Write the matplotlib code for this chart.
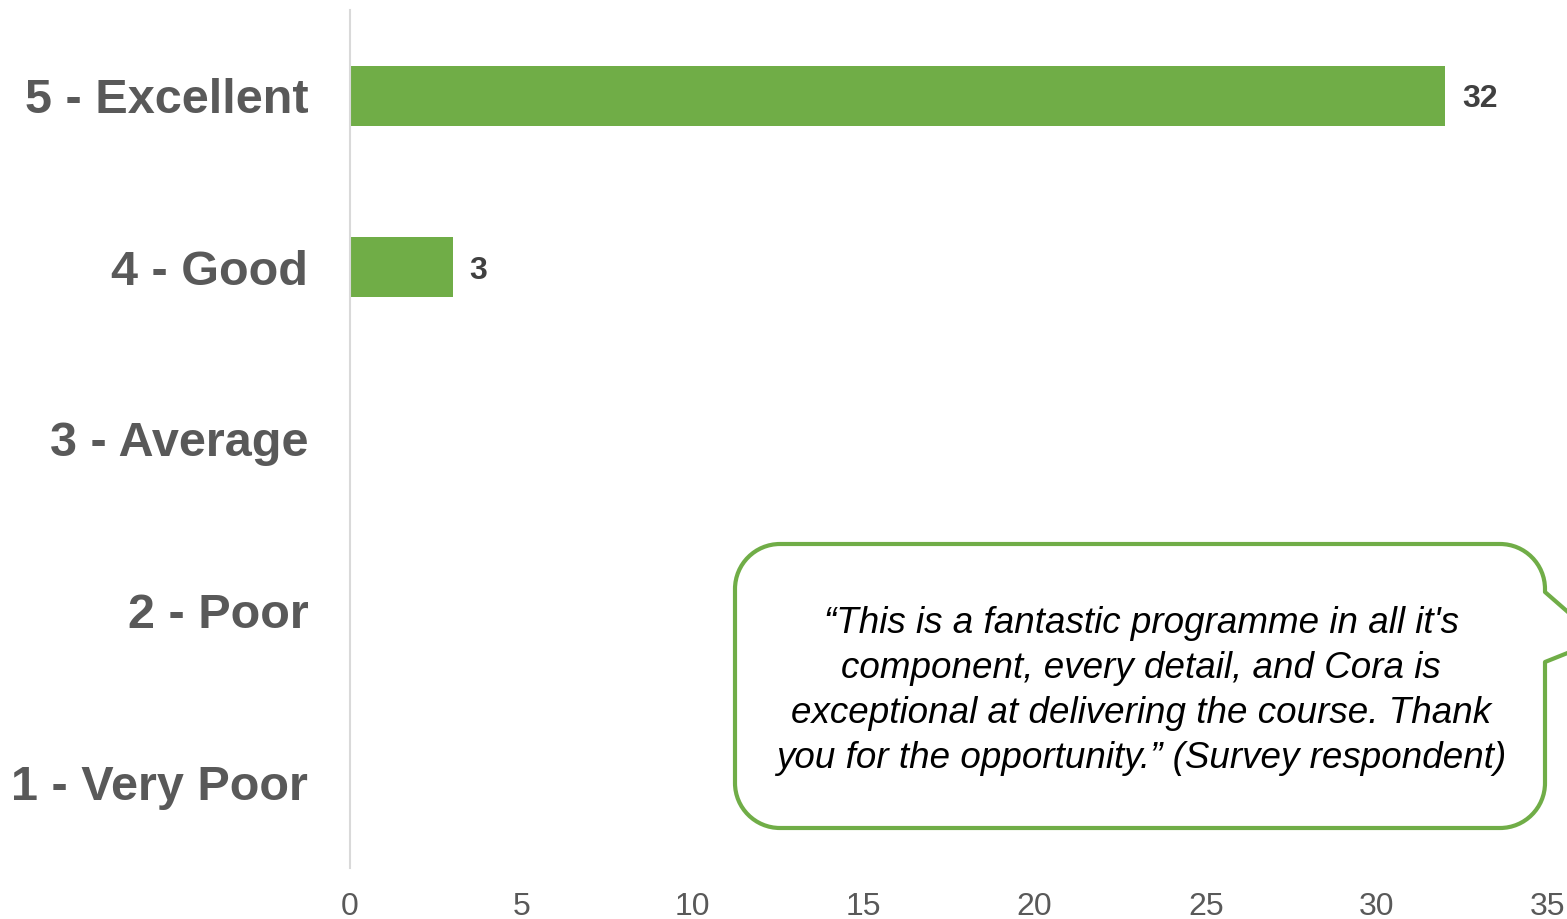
import matplotlib.pyplot as plt
from matplotlib.path import Path
from matplotlib.patches import PathPatch

# Survey ratings, listed top to bottom
ratings = ['5 - Excellent', '4 - Good', '3 - Average', '2 - Poor', '1 - Very Poor']
counts = [32, 3, 0, 0, 0]
x_ticks = [0, 5, 10, 15, 20, 25, 30, 35]
quote = ("\u201cThis is a fantastic programme in all it's\n"
         "component, every detail, and Cora is\n"
         "exceptional at delivering the course. Thank\n"
         "you for the opportunity.\u201d (Survey respondent)")

GREEN = '#70AD47'
GREY = '#595959'
W, H = 1567, 919

plt.rcParams['font.family'] = ['Liberation Sans', 'DejaVu Sans']

fig = plt.figure(figsize=(W / 100, H / 100), dpi=100)
ax = fig.add_axes([350 / W, 1 - 868 / H, (1548 - 350) / W, (868 - 10) / H])

ypos = list(range(len(ratings)))
bars = ax.barh(ypos, counts, height=0.35, color=GREEN)
ax.set_ylim(len(ratings) - 0.5, -0.5)
ax.set_xlim(0, 35)

# value labels only for non-empty bars
for b, v in zip(bars, counts):
    if v > 0:
        ax.annotate(str(v), (v, b.get_y() + b.get_height() / 2),
                    xytext=(12, 0), textcoords='offset points',
                    va='center_baseline', ha='left', fontsize=23,
                    fontweight='bold', color='#404040')

ax.set_yticks(ypos)
ax.set_yticklabels(ratings, fontsize=35, fontweight='bold', color=GREY)
ax.set_xticks(x_ticks)
ax.set_xticklabels([str(t) for t in x_ticks], fontsize=23, color=GREY)
ax.tick_params(axis='y', length=0, pad=30)
ax.tick_params(axis='x', length=0, pad=17)

for side in ['top', 'right', 'bottom']:
    ax.spines[side].set_visible(False)
ax.spines['left'].set_color('#D9D9D9')
ax.spines['left'].set_linewidth(1.5)


# Speech bubble with a tail on its right side (pixel coords, y down)
def bubble_path(left, top, right, bottom, r, tail):
    k = 0.5523 * r
    t1, tip, t2 = tail
    pts = [
        (left + r, top),
        (right - r, top),
        (right - r + k, top), (right, top + r - k), (right, top + r),
        (right, t1), tip, (right, t2),
        (right, bottom - r),
        (right, bottom - r + k), (right - r + k, bottom), (right - r, bottom),
        (left + r, bottom),
        (left + r - k, bottom), (left, bottom - r + k), (left, bottom - r),
        (left, top + r),
        (left, top + r - k), (left + r - k, top), (left + r, top),
        (left + r, top),
    ]
    codes = [Path.MOVETO, Path.LINETO,
             Path.CURVE4, Path.CURVE4, Path.CURVE4,
             Path.LINETO, Path.LINETO, Path.LINETO,
             Path.LINETO,
             Path.CURVE4, Path.CURVE4, Path.CURVE4,
             Path.LINETO,
             Path.CURVE4, Path.CURVE4, Path.CURVE4,
             Path.LINETO,
             Path.CURVE4, Path.CURVE4, Path.CURVE4,
             Path.CLOSEPOLY]
    pts = [(x / W, 1 - y / H) for x, y in pts]
    return Path(pts, codes)


bubble = bubble_path(735, 544, 1545, 828, 45, (592, (1600, 640), 662))
fig.patches.append(PathPatch(bubble, transform=fig.transFigure,
                             facecolor='white', edgecolor=GREEN,
                             linewidth=3, joinstyle='round', zorder=5))

fig.text(1141 / W, 1 - 691 / H, quote, ha='center', va='center',
         fontsize=26.5, style='italic', color='black', linespacing=1.36,
         zorder=6)

fig.savefig('out.png', dpi=100, facecolor='white')
